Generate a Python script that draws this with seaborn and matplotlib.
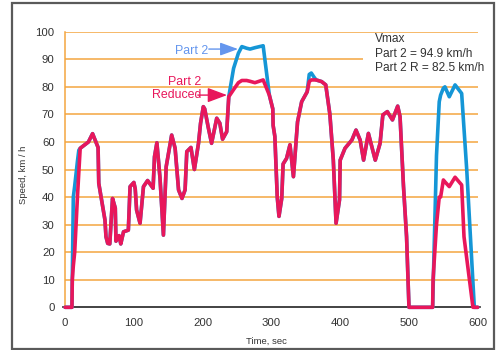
import matplotlib
matplotlib.use("Agg")
import matplotlib.pyplot as plt
from matplotlib.patches import Rectangle
import numpy as np
import pandas as pd
import seaborn as sns

# Drive cycle, Part 2 and Part 2 Reduced: time (s) and speed (km/h)
time_s = [
    0, 10, 10.5, 12, 14, 18, 20, 22, 34, 40, 48, 49, 58, 59.5, 62, 65, 69, 73, 74,
    78.5, 81, 85, 92, 94.5, 100, 102, 104, 109, 114, 120, 128, 130, 133.5, 138,
    143, 147, 155, 160, 165, 170, 174.5, 177, 183, 188, 194, 197, 201, 203, 208,
    213, 220.5, 225, 229, 235, 238, 245, 252, 257, 264, 269, 276, 288, 297, 302,
    302.5, 305, 308.5, 311, 315, 317, 322, 327, 332, 338, 344, 352, 355, 358,
    362, 365, 373, 379, 385, 390, 394, 399, 400, 407, 417, 423, 429, 434, 441,
    451, 458, 462, 468.5, 476, 483.6, 487, 492, 496.5, 500, 534.4, 535, 539,
    540, 544, 546, 550, 552.3, 558.6, 567, 576.6, 580, 584, 593, 595, 600,
]
part2_speed = [
    0, 0, 10, 40, 44, 53, 57, 57.7, 60, 63, 58, 45, 31.7, 25.6, 23.2, 23, 39.5, 36, 24,
    26, 23, 27.4, 28, 43.8, 45.3, 43, 35.3, 30.5, 43.8, 46, 43.2, 54.6, 59.7, 47,
    26.2, 51, 62.5, 57.7, 42.6, 39.5, 42.6, 56.5, 58, 50, 59.5, 66.8, 72.8, 72, 65.5,
    59.5, 68.6, 66.8, 61, 63.7, 76.4, 86.7, 92.2, 94.6, 94, 93.7, 94.2, 94.9, 77, 72,
    66, 62, 40, 33, 39.5, 52, 54, 59, 47.4, 67.3, 74.6, 78.2, 84.5, 85,
    83.5, 82.5, 81.9, 80.7, 70, 53.4, 30.5, 39, 53.4, 57.7, 60.7, 64.3, 60.7, 53.4, 63.1,
    53.4, 59.5, 69.8, 71, 68, 73, 69.2, 44, 25.6, 0, 0, 6, 45,
    55, 74.6, 77, 79.5, 80, 76.4, 80.7, 77.6, 64.8, 49.8, 9, 0, 0,
]
part2_reduced_speed = [
    0, 0, 10, 15, 20, 40, 49, 57.7, 60, 63, 58, 45, 31.7, 25.6, 23.2, 23, 39.5, 36, 24,
    26, 23, 27.4, 28, 43.8, 45.3, 43, 35.3, 30.5, 43.8, 46, 43.2, 54.6, 59.7, 47,
    26.2, 51, 62.5, 57.7, 42.6, 39.5, 42.6, 56.5, 58, 50, 59.5, 66.8, 72.8, 72, 65.5,
    59.5, 68.6, 66.8, 61, 63.7, 76.4, 79, 81.5, 82.3, 82.3, 82, 81.5, 82.5, 77, 72,
    66, 62, 40, 33, 39.5, 52, 54, 59, 47.4, 67.3, 74.6, 78.2, 81.9, 82.5,
    82.5, 82.5, 81.9, 80.7, 70, 53.4, 30.5, 39, 53.4, 57.7, 60.7, 64.3, 60.7, 53.4, 63.1,
    53.4, 59.5, 69.8, 71, 68, 73, 69.2, 44, 25.6, 0, 0, 10, 26,
    30, 40, 40, 46.2, 45.5, 43.8, 47.2, 44.4, 25.6, 17.7, 0, 0, 0,
]
y_ticks = [0, 10, 20, 30, 40, 50, 60, 70, 80, 90, 100]
x_ticks = [0, 100, 200, 300, 400, 500, 600]
vmax_lines = ["Vmax", "Part 2 = 94.9 km/h", "Part 2 R = 82.5 km/h"]

BLUE = "#1596d6"
RED = "#e8175b"
LABEL_BLUE = "#6496ee"
ORANGE = "#f4a540"
TEXT = "#333333"

sns.set_style("white")
plt.rcParams["font.family"] = ["Liberation Sans", "DejaVu Sans"]

fig = plt.figure(figsize=(4.98, 3.5), dpi=100)
ax = fig.add_axes([0.1265, 0.122, 0.837, 0.7874])

df = pd.DataFrame({
    "time": time_s * 2,
    "speed": part2_speed + part2_reduced_speed,
    "series": ["Part 2"] * len(time_s) + ["Part 2 Reduced"] * len(time_s),
})
sns.lineplot(data=df, x="time", y="speed", hue="series",
             palette={"Part 2": BLUE, "Part 2 Reduced": RED},
             estimator=None, sort=True, linewidth=2.6, legend=False,
             ax=ax, zorder=4, clip_on=False)

ax.set_xlim(-3, 603)
ax.set_ylim(0, 100)

# horizontal guides
ax.hlines(y_ticks[1:], 0, 600, colors=ORANGE, linewidth=1.1, zorder=1)

for side in ("top", "right"):
    ax.spines[side].set_visible(False)
ax.spines["left"].set_position(("data", 0))
ax.spines["left"].set_color(ORANGE)
ax.spines["left"].set_linewidth(1.1)
ax.spines["bottom"].set_color("#222222")
ax.spines["bottom"].set_linewidth(1.2)
ax.spines["bottom"].set_zorder(3)

ax.set_yticks(y_ticks)
ax.set_xticks(x_ticks)
ax.tick_params(axis="y", direction="out", length=4.5, width=1.1, color=ORANGE,
               labelsize=8.2, labelcolor=TEXT, pad=3)
ax.tick_params(axis="x", direction="out", length=5, width=1, color="#555555",
               labelsize=8.2, labelcolor=TEXT, pad=2.5)

ax.set_xlabel("Time, sec", fontsize=6.8, color=TEXT)
ax.set_ylabel("Speed, km / h", fontsize=6.8, color=TEXT)
ax.xaxis.set_label_coords(0.487, -0.107)
ax.yaxis.set_label_coords(-0.083, 0.48)

# Vmax note on a white panel
ax.add_patch(Rectangle((433, 84), 175, 14, facecolor="white", edgecolor="none",
                       zorder=2, clip_on=False))
ax.text(450.5, 99.4, "\n".join(vmax_lines), ha="left", va="top", fontsize=8.6,
        color=TEXT, linespacing=1.25, zorder=5)

# series call-outs
ax.text(207.8, 93, "Part 2", ha="right", va="center", fontsize=8.9, color=LABEL_BLUE, zorder=5)
ax.annotate("", xy=(251.5, 93.7), xytext=(209, 93.7),
            arrowprops=dict(arrowstyle="-|>,head_length=1.1,head_width=0.4",
                            color=LABEL_BLUE, lw=1, mutation_scale=10,
                            shrinkA=0, shrinkB=0), zorder=5)
ax.text(198, 79.3, "Part 2\nReduced", ha="right", va="center", fontsize=8.9,
        color=RED, multialignment="right", linespacing=1.15, zorder=5)
ax.annotate("", xy=(235.5, 77), xytext=(193, 77),
            arrowprops=dict(arrowstyle="-|>,head_length=1.2,head_width=0.45",
                            color=RED, lw=1, mutation_scale=10,
                            shrinkA=0, shrinkB=0), zorder=5)

# outer frame
fig.add_artist(Rectangle((12 / 498, 1 / 350), 482 / 498, 346 / 350,
                         transform=fig.transFigure, fill=False,
                         edgecolor="#5a5a5a", linewidth=1.6))

fig.savefig("out.png", dpi=100)
